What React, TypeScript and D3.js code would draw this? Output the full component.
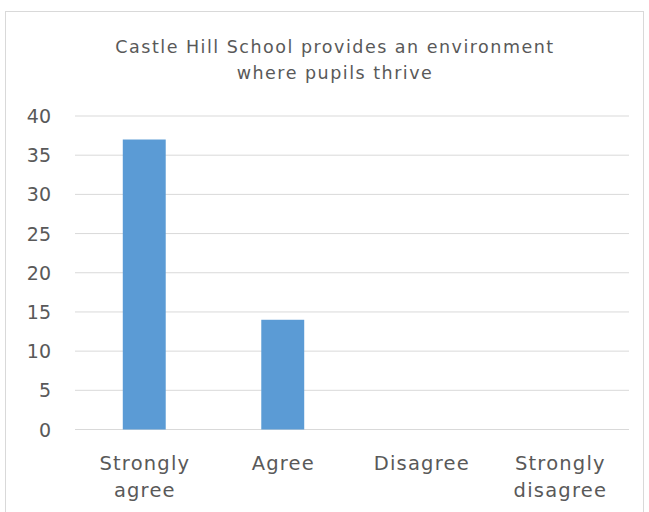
import React from "react";
import * as d3 from "d3";

const categories = ["Strongly agree", "Agree", "Disagree", "Strongly disagree"];
const values = [37, 14, 0, 0];
const yTicks = [0, 5, 10, 15, 20, 25, 30, 35, 40];
const titleLines = ["Castle Hill School provides an environment", "where pupils thrive"];
const catLines: string[][] = [["Strongly", "agree"], ["Agree"], ["Disagree"], ["Strongly", "disagree"]];

export default function App() {
  const W = 649, H = 512;
  const left = 75, right = 629, top = 116, bottom = 429.5;
  const x = d3.scaleBand<string>().domain(categories).range([left, right]).paddingInner(0.69).paddingOuter(0.345);
  const y = d3.scaleLinear().domain([0, 40]).range([bottom, top]);
  const font = "'Century Gothic', 'DejaVu Sans', sans-serif";
  const textColor = "#595959";
  return (
    <svg width={W} height={H} style={{ position: "absolute", left: 0, top: 0, background: "#fff" }} fontFamily={font}>
      <rect x={5.5} y={11.5} width={638} height={510} fill="#fff" stroke="#D9D9D9" strokeWidth={1} />
      {titleLines.map((t, i) => (
        <text key={i} x={335} y={53 + i * 26} textAnchor="middle" fontSize={17.5} letterSpacing={1.5} fill={textColor}>{t}</text>
      ))}
      {yTicks.map((t) => (
        <g key={t}>
          <line x1={left} x2={right} y1={y(t)} y2={y(t)} stroke="#D9D9D9" strokeWidth={1} />
          <text x={51} y={y(t) + 7} textAnchor="end" fontSize={19} fill={textColor}>{t}</text>
        </g>
      ))}
      {categories.map((c, i) => (
        <rect key={c} x={x(c)} y={y(values[i])} width={x.bandwidth()} height={bottom - y(values[i])} fill="#5B9BD5" />
      ))}
      {categories.map((c, i) => (
        <text key={c} x={(x(c) as number) + x.bandwidth() / 2 + 0.6} textAnchor="middle" fontSize={19.5} letterSpacing={1.2} fill={textColor}>
          {catLines[i].map((l, j) => (
            <tspan key={j} x={(x(c) as number) + x.bandwidth() / 2 + 0.6} y={470 + j * 27}>{l}</tspan>
          ))}
        </text>
      ))}
    </svg>
  );
}
